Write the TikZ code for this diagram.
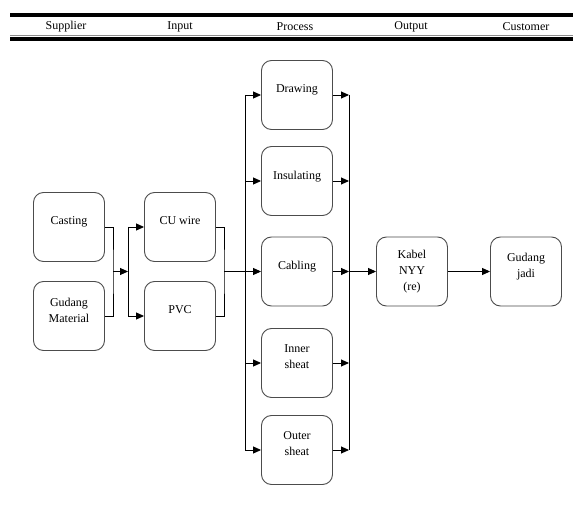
\documentclass[tikz,border=0pt]{standalone}
\usepackage{fontspec}
\setmainfont{Liberation Serif}
\usetikzlibrary{arrows.meta}

\begin{document}
\begin{tikzpicture}[x=1pt, y=-1pt, line width=0.9pt,
	box/.style={draw=black!70, rounded corners=10pt, minimum width=71pt, minimum height=69pt,
		align=center, font=\fontsize{12}{16}\selectfont, text depth=12pt},
	head/.style={font=\fontsize{12}{14}\selectfont, inner sep=0pt},
	arr/.style={-{Triangle[length=8pt, width=7pt]}}]
	\useasboundingbox[fill=white] (0,0) rectangle (573,505);
	% header
	\draw[line width=3.5pt] (10,15) -- (573,15);
	\draw[black!45, line width=0.6pt] (10,35.5) -- (573,35.5);
	\draw[line width=3.5pt] (10,39) -- (573,39);
	\node[head] (hsup) at (66,27) {Supplier};
	\node[head] (hin) at (180,27) {Input};
	\node[head] (hpro) at (295,27) {Process};
	\node[head] (hout) at (411,27) {Output};
	\node[head] (hcus) at (526,27) {Customer};
	% boxes
	\node[box] (cast) at (69,227) {Casting};
	\node[box] (gmat) at (69,316) {Gudang\\Material};
	\node[box] (cu) at (180,227) {CU wire};
	\node[box] (pvc) at (180,316) {PVC};
	\node[box] (draw) at (297,95) {Drawing};
	\node[box] (ins) at (297,181) {Insulating};
	\node[box] (cab) at (297,271.5) {Cabling};
	\node[box] (inn) at (297,363) {Inner\\sheat};
	\node[box] (out) at (297,450) {Outer\\sheat};
	\node[box, text depth=] (kab) at (412,271.5) {Kabel\\NYY\\(re)};
	\node[box] (gjd) at (526,271.5) {Gudang\\jadi};
	% junctions
	\coordinate (j1) at (113,271.5);
	\coordinate (j2) at (128,271.5);
	\coordinate (j3) at (224,271.5);
	\coordinate (jl) at (245,271.5);
	\coordinate (jr) at (349,271.5);
	% supplier -> input
	\draw (cast.east) -| (j1) |- (gmat.east);
	\draw[arr] (j1) -- (j2);
	\draw (cu.west -| j2) -- (pvc.west -| j2);
	\draw[arr] (j2 |- cu.west) -- (cu.west);
	\draw[arr] (j2 |- pvc.west) -- (pvc.west);
	% input -> process
	\draw (cu.east) -| (j3) |- (pvc.east);
	\draw[arr] (j3) -- (cab.west);
	\draw (draw.west -| jl) -- (out.west -| jl);
	\draw (draw.east -| jr) -- (out.east -| jr);
	\foreach \n in {draw, ins, inn, out}
		\draw[arr] (\n.west -| jl) -- (\n.west);
	\foreach \n in {draw, ins, cab, inn, out}
		\draw[arr] (\n.east) -- (\n.east -| jr);
	% process -> output -> customer
	\draw[arr] (jr) -- (kab.west);
	\draw[arr] (kab) -- (gjd);
\end{tikzpicture}
\end{document}
